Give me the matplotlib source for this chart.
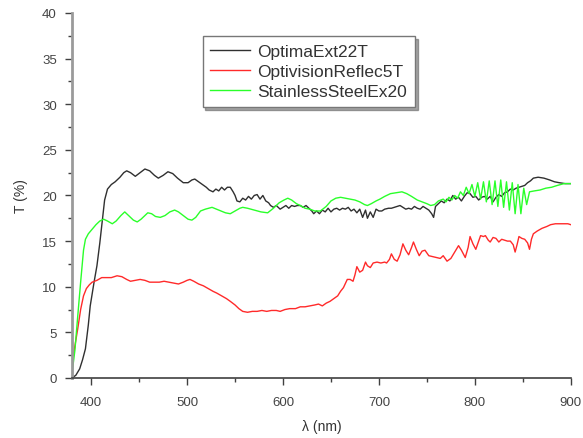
import numpy as np
import matplotlib
matplotlib.use("Agg")
import matplotlib.pyplot as plt
from matplotlib.ticker import MultipleLocator

plt.rcParams['font.family'] = ['Liberation Sans', 'DejaVu Sans']

# OptimaExt22T
wl_black = [380, 384, 388, 391, 394, 397, 399, 403, 406, 409, 411, 414, 417, 421, 425, 430, 434, 437, 441, 446,
            451, 456, 461, 466, 470, 475, 480, 485, 490, 496, 501, 505, 508, 512, 516, 520, 523, 527, 530, 533,
            536, 539, 542, 545, 548, 550, 552, 555, 558, 561, 564, 567, 570, 573, 576, 579, 582, 585, 587, 590,
            593, 597, 600, 603, 606, 609, 612, 615, 618, 621, 624, 627, 630, 632, 635, 638, 641, 644, 647, 650,
            653, 656, 659, 662, 665, 668, 671, 674, 677, 680, 683, 686, 688, 691, 694, 697, 700, 703, 706, 710,
            713, 716, 719, 722, 725, 728, 731, 734, 737, 740, 743, 746, 749, 752, 755, 757, 759, 762, 765, 768,
            771, 774, 777, 780, 783, 786, 789, 792, 795, 798, 801, 804, 807, 810, 813, 816, 819, 822, 825, 828,
            831, 834, 837, 840, 843, 846, 849, 852, 855, 858, 861, 866, 872, 878, 883, 888, 894, 900]
t_black = [0.0, 0.3, 1.0, 2.0, 3.2, 5.8, 7.9, 10.5, 12.3, 14.8, 16.7, 19.5, 20.7, 21.2, 21.5, 22.0, 22.5, 22.7, 22.5, 22.1,
           22.5, 22.9, 22.7, 22.2, 21.9, 22.2, 22.6, 22.4, 21.9, 21.4, 21.4, 21.7, 21.8, 21.5, 21.2, 20.9, 20.6, 20.4, 20.7, 20.5,
           20.9, 20.6, 20.9, 20.9, 20.4, 20.0, 19.4, 19.3, 19.7, 19.5, 19.9, 19.6, 20.0, 20.1, 19.6, 20.0, 19.4, 19.2, 18.9, 18.7,
           18.9, 18.5, 18.7, 18.9, 18.6, 18.9, 18.8, 18.9, 18.9, 18.7, 18.9, 18.6, 18.3, 18.0, 18.3, 18.0, 18.4, 18.2, 18.6, 18.2,
           18.5, 18.6, 18.4, 18.6, 18.5, 18.7, 18.3, 18.5, 18.1, 18.5, 17.6, 18.4, 17.5, 18.2, 17.6, 18.5, 18.3, 18.3, 18.5, 18.6,
           18.6, 18.7, 18.8, 18.9, 18.7, 18.5, 18.6, 18.5, 18.8, 18.6, 18.5, 18.8, 18.6, 18.4, 18.0, 17.6, 18.8, 19.1, 19.4, 19.2,
           19.6, 19.4, 20.0, 19.6, 19.8, 19.4, 19.9, 20.3, 20.2, 19.8, 19.9, 19.5, 19.8, 19.9, 19.6, 19.9, 19.3, 19.8, 20.1, 19.9,
           20.3, 20.4, 20.7, 20.6, 20.8, 20.9, 21.0, 21.1, 21.4, 21.6, 21.9, 22.0, 21.9, 21.7, 21.5, 21.4, 21.3, 21.3]

# OptivisionReflec5T
wl_red = [380, 383, 386, 389, 392, 395, 398, 401, 406, 411, 416, 421, 427, 432, 437, 441, 446, 451, 456, 461,
          466, 471, 476, 481, 486, 491, 496, 500, 503, 507, 512, 517, 522, 527, 531, 536, 541, 545, 550, 554,
          558, 563, 568, 573, 578, 583, 588, 593, 597, 602, 607, 613, 618, 623, 628, 633, 637, 641, 645, 649,
          653, 657, 660, 663, 667, 670, 673, 675, 677, 680, 683, 686, 688, 691, 694, 698, 702, 706, 708, 711,
          713, 716, 719, 722, 725, 728, 731, 734, 736, 739, 742, 745, 748, 752, 756, 760, 764, 767, 771, 775,
          779, 783, 786, 790, 793, 795, 798, 801, 804, 806, 809, 811, 814, 816, 819, 822, 825, 828, 831, 834,
          837, 840, 842, 844, 846, 849, 852, 855, 857, 859, 861, 865, 870, 875, 879, 884, 889, 893, 897, 900]
t_red = [1.5, 3.5, 5.4, 7.5, 9.0, 9.8, 10.2, 10.5, 10.7, 11.0, 11.0, 11.0, 11.2, 11.1, 10.8, 10.6, 10.7, 10.8, 10.7, 10.5,
         10.5, 10.5, 10.6, 10.5, 10.4, 10.3, 10.5, 10.7, 10.8, 10.6, 10.3, 10.1, 9.8, 9.5, 9.3, 9.0, 8.7, 8.4, 8.0, 7.6,
         7.3, 7.2, 7.3, 7.3, 7.4, 7.3, 7.4, 7.4, 7.3, 7.5, 7.6, 7.6, 7.8, 7.8, 7.9, 8.0, 8.1, 7.9, 8.2, 8.4,
         8.7, 9.0, 9.5, 9.9, 10.8, 10.8, 10.6, 11.3, 12.2, 11.6, 11.8, 12.7, 12.3, 12.1, 12.6, 12.7, 12.6, 12.7, 12.6, 13.0,
         13.6, 13.0, 12.8, 13.5, 14.7, 14.0, 13.5, 14.3, 14.9, 14.1, 13.4, 13.9, 14.0, 13.4, 13.3, 13.2, 13.1, 13.4, 12.8, 13.1,
         13.8, 14.5, 14.0, 13.2, 14.3, 15.5, 14.7, 14.1, 15.0, 15.6, 15.5, 15.6, 15.1, 14.9, 15.4, 15.3, 14.9, 15.2, 15.1, 15.0,
         15.0, 14.6, 13.8, 14.6, 15.5, 15.3, 15.2, 14.8, 14.1, 15.2, 15.8, 16.1, 16.4, 16.6, 16.8, 16.9, 16.9, 16.9, 16.9, 16.8]

# StainlessSteelEx20
wl_green = [380, 383, 386, 389, 392, 394, 397, 401, 405, 409, 413, 417, 422, 426, 431, 435, 439, 444, 448, 452,
            456, 459, 463, 467, 472, 477, 482, 487, 491, 496, 501, 505, 509, 514, 519, 526, 533, 540, 545, 550,
            555, 558, 563, 570, 577, 584, 590, 596, 601, 605, 609, 614, 618, 623, 628, 633, 639, 645, 650, 655,
            660, 665, 670, 675, 680, 685, 688, 692, 697, 701, 706, 712, 718, 724, 729, 734, 740, 745, 750, 754,
            758, 762, 767, 770, 773, 776, 779, 782, 785, 788, 791, 794, 797, 800, 803, 806, 809, 812, 815, 818,
            821, 824, 827, 830, 833, 836, 839, 842, 845, 848, 851, 854, 857, 862, 868, 874, 880, 886, 893, 900]
t_green = [0.5, 3.0, 6.8, 10.5, 14.0, 15.2, 15.8, 16.3, 16.8, 17.2, 17.4, 17.2, 16.9, 17.2, 17.8, 18.2, 17.8, 17.3, 17.1, 17.4,
           17.8, 18.1, 18.0, 17.7, 17.6, 17.8, 18.2, 18.4, 18.2, 17.8, 17.4, 17.3, 17.6, 18.3, 18.5, 18.7, 18.4, 18.1, 18.0, 18.3,
           18.6, 18.7, 18.6, 18.4, 18.2, 18.1, 18.6, 19.2, 19.5, 19.7, 19.5, 19.1, 18.9, 18.6, 18.5, 18.3, 18.3, 18.8, 19.4, 19.7,
           19.8, 19.7, 19.6, 19.5, 19.3, 19.0, 18.9, 19.1, 19.4, 19.6, 19.9, 20.2, 20.3, 20.4, 20.2, 19.9, 19.5, 19.3, 19.1, 18.9,
           19.0, 19.4, 19.6, 19.3, 19.8, 19.5, 20.0, 19.7, 20.4, 20.0, 20.9, 20.2, 21.2, 19.9, 21.4, 19.6, 21.5, 19.3, 21.6, 19.0,
           21.6, 18.8, 21.7, 18.7, 21.5, 18.4, 21.4, 18.0, 21.2, 18.0, 20.8, 19.0, 20.4, 20.5, 20.6, 20.8, 20.9, 21.1, 21.3, 21.3]

fig = plt.figure(figsize=(5.83, 4.39), dpi=100)
ax = fig.add_axes([0.1235, 0.1367, 0.8555, 0.8315])

ax.plot(wl_black, t_black, color='#303030', lw=1.0, label='OptimaExt22T')
ax.plot(wl_red, t_red, color='#ff2a2a', lw=1.0, label='OptivisionReflec5T')
ax.plot(wl_green, t_green, color='#2aff2a', lw=1.0, label='StainlessSteelEx20')

ax.set_xlim(380, 900)
ax.set_ylim(0, 40)
ax.xaxis.set_major_locator(MultipleLocator(100))
ax.xaxis.set_minor_locator(MultipleLocator(50))
ax.yaxis.set_major_locator(MultipleLocator(5))
ax.yaxis.set_minor_locator(MultipleLocator(2.5))

ax.spines['top'].set_visible(False)
ax.spines['right'].set_visible(False)
ax.spines['left'].set_color('#9a9a9a')
ax.spines['left'].set_linewidth(2.0)
ax.spines['bottom'].set_color('#404040')
ax.spines['bottom'].set_linewidth(1.2)

ax.tick_params(which='major', direction='out', length=5, width=1, colors='#404040',
               labelsize=9.5, labelcolor='#444444')
ax.tick_params(which='minor', direction='out', length=3, width=1, colors='#404040')
ax.tick_params(axis='x', pad=8)
ax.tick_params(axis='y', pad=6)

ax.set_xlabel('λ (nm)', fontsize=10, color='#333333', labelpad=8)
ax.set_ylabel('T (%)', fontsize=10, color='#333333', labelpad=10)

leg = ax.legend(loc='upper left', bbox_to_anchor=(0.262, 0.937), fontsize=12.5,
                frameon=True, fancybox=False, shadow=True, borderaxespad=0,
                handlelength=2.3, handletextpad=0.4, borderpad=0.45, labelspacing=0.28)
leg.get_frame().set_edgecolor('#777777')
leg.get_frame().set_linewidth(1.0)
for t in leg.get_texts():
    t.set_color('#333333')

fig.savefig('out.png', dpi=100)
